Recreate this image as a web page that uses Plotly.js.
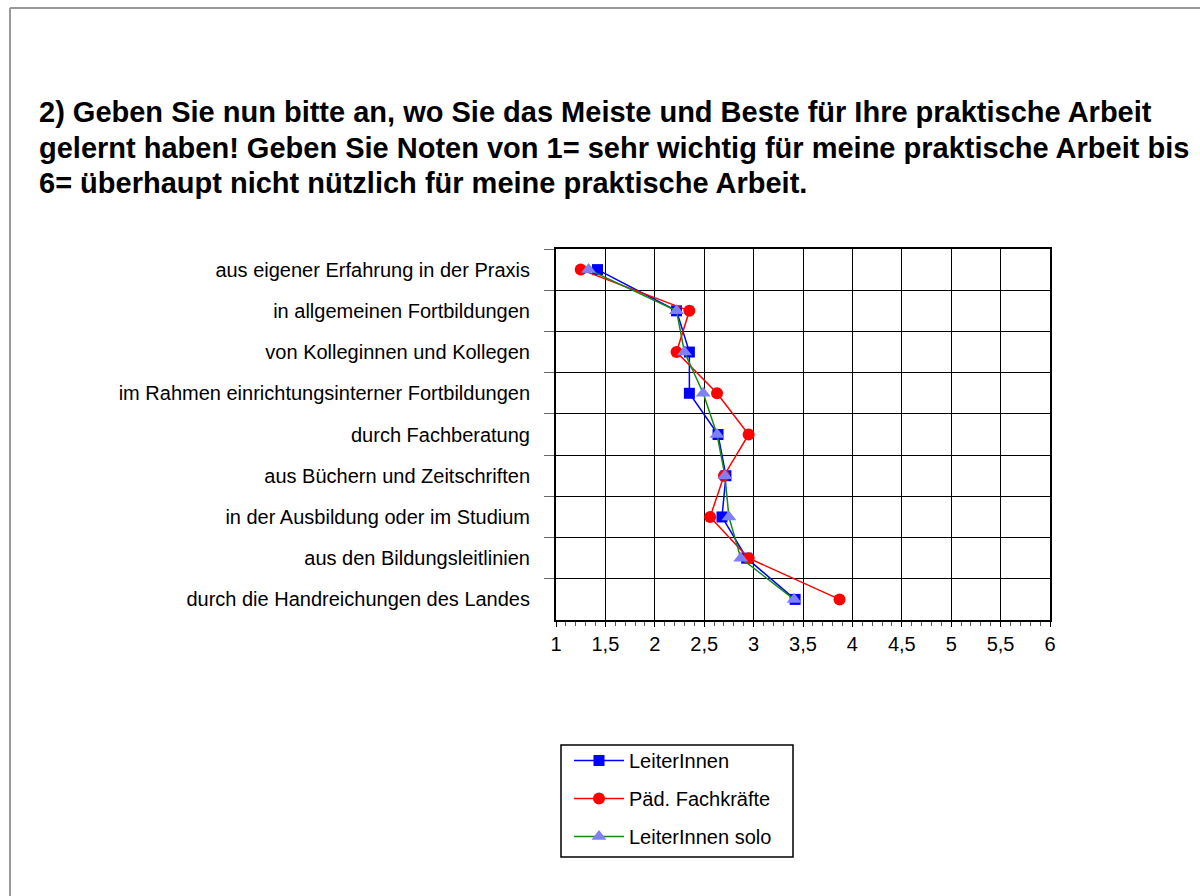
<!DOCTYPE html>
<html>
<head>
<meta charset="utf-8">
<script src="https://cdn.plot.ly/plotly-3.0.1.min.js"></script>
<style>
html,body{margin:0;padding:0;background:#fff;}
#chart{width:1200px;height:896px;}
</style>
</head>
<body>
<div id="chart"></div>
<script>
var categories = [
  "aus eigener Erfahrung in der Praxis",
  "in allgemeinen Fortbildungen",
  "von Kolleginnen und Kollegen",
  "im Rahmen einrichtungsinterner Fortbildungen",
  "durch Fachberatung",
  "aus Büchern und Zeitschriften",
  "in der Ausbildung oder im Studium",
  "aus den Bildungsleitlinien",
  "durch die Handreichungen des Landes"
];
var leiterInnen      = [1.42, 2.22, 2.35, 2.35, 2.64, 2.72, 2.68, 2.93, 3.42];
var paedFachkraefte  = [1.25, 2.35, 2.22, 2.63, 2.95, 2.70, 2.56, 2.95, 3.87];
var leiterInnenSolo  = [1.33, 2.22, 2.30, 2.49, 2.63, 2.71, 2.75, 2.87, 3.41];
var seriesNames = ["LeiterInnen", "Päd. Fachkräfte", "LeiterInnen solo"];
var titleLines = [
  "2) Geben Sie nun bitte an, wo Sie das Meiste und Beste für Ihre praktische Arbeit",
  "gelernt haben! Geben Sie Noten von 1= sehr wichtig für meine praktische Arbeit bis",
  "6= überhaupt nicht nützlich für meine praktische Arbeit."
];
var xTickVals = [1, 1.5, 2, 2.5, 3, 3.5, 4, 4.5, 5, 5.5, 6];

// pixel helpers for layout placement
var PL = 556, PR = 1050, PT = 249, PB = 620;
function px(x){ return (x - PL) / (PR - PL); }
function py(y){ return (PB - y) / (PB - PT); }

var FONT = "Liberation Sans, Arial, sans-serif";

var traces = [
  {
    x: leiterInnen, y: categories, name: seriesNames[0], type: "scatter", mode: "lines+markers",
    line: {color: "#0000ff", width: 1.5},
    marker: {symbol: "square", size: 11, color: "#0000ff"},
    legendgroup: "a"
  },
  {
    x: paedFachkraefte, y: categories, name: seriesNames[1], type: "scatter", mode: "lines+markers",
    line: {color: "#ff0000", width: 1.5},
    marker: {symbol: "circle", size: 12, color: "#ff0000"},
    legendgroup: "b"
  },
  {
    x: leiterInnenSolo, y: categories, name: seriesNames[2], type: "scatter", mode: "lines+markers",
    line: {color: "#138a13", width: 1.5},
    marker: {symbol: "triangle-up", size: 13, color: "#7f7ff7"},
    legendgroup: "c"
  }
];

var annotations = titleLines.map(function(t, i){
  return {
    text: t, xref: "paper", yref: "paper",
    x: px(37), y: py(112 + i * 35.5),
    xanchor: "left", yanchor: "middle", showarrow: false,
    font: {family: FONT, size: 29, color: "#000", weight: "bold"}
  };
});

var shapes = [
  {type: "line", xref: "paper", yref: "paper", x0: px(10), x1: px(1200), y0: py(8), y1: py(8),
   line: {color: "#999999", width: 2}},
  {type: "line", xref: "paper", yref: "paper", x0: px(10), x1: px(10), y0: py(8), y1: py(896),
   line: {color: "#999999", width: 2}},
  // legend frame
  {type: "rect", xref: "paper", yref: "paper", x0: px(561), x1: px(793), y0: py(745), y1: py(857),
   line: {color: "#000", width: 1.5}, fillcolor: "rgba(0,0,0,0)"}
];

var layout = {
  width: 1200, height: 896,
  margin: {l: PL, r: 1200 - PR, t: PT, b: 896 - PB, pad: 0},
  paper_bgcolor: "#ffffff", plot_bgcolor: "#ffffff",
  separators: ", ",
  font: {family: FONT, size: 20, color: "#000"},
  showlegend: true,
  legend: {
    x: px(569), y: py(741), xanchor: "left", yanchor: "top",
    borderwidth: 0, bgcolor: "rgba(0,0,0,0)",
    font: {family: FONT, size: 20, color: "#000"},
    traceorder: "grouped",
    tracegroupgap: 9,
    itemwidth: 50
  },
  xaxis: {
    range: [1, 6], tickvals: xTickVals, ticktext: xTickVals.map(function(v){ return String(v).replace(".", ","); }),
    showgrid: true, gridcolor: "#000", gridwidth: 1,
    showline: true, linecolor: "#000", linewidth: 2, mirror: true,
    ticks: "outside", ticklen: 5, tickcolor: "#000", tickwidth: 1,
    minor: {dtick: 0.1, ticks: "outside", ticklen: 4, tickcolor: "#555", showgrid: false},
    zeroline: false, fixedrange: true,
    tickfont: {family: FONT, size: 20, color: "#000"}
  },
  yaxis: {
    type: "category", autorange: false, range: [8.5, -0.5],
    categoryorder: "array", categoryarray: categories,
    tickson: "boundaries",
    showgrid: true, gridcolor: "#000", gridwidth: 1,
    showline: true, linecolor: "#000", linewidth: 2, mirror: true,
    ticks: "outside", ticklen: 10, tickcolor: "#666", tickwidth: 1,
    ticklabelstandoff: 20,
    zeroline: false, fixedrange: true,
    tickfont: {family: FONT, size: 20, color: "#000"}
  },
  annotations: annotations,
  shapes: shapes
};

Plotly.newPlot("chart", traces, layout, {displayModeBar: false, staticPlot: true});
</script>
</body>
</html>
